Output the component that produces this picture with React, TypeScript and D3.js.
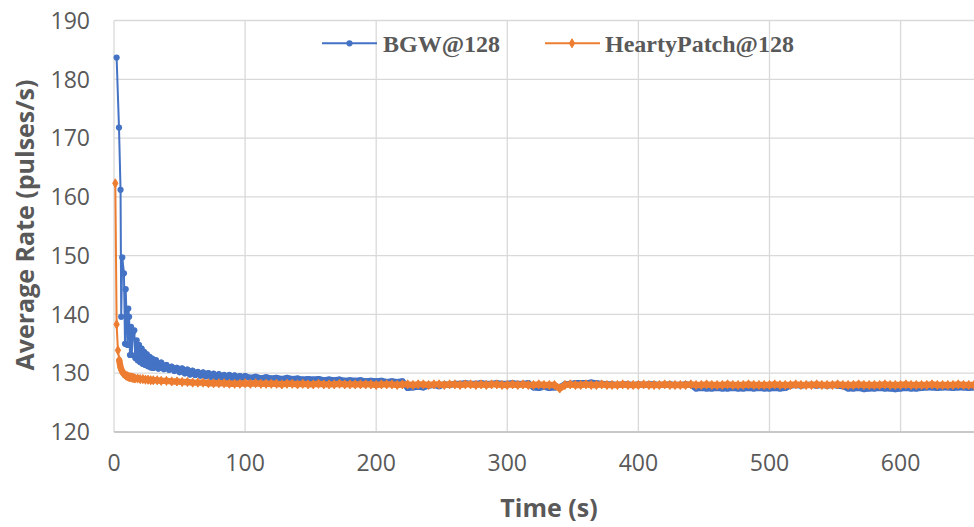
import React from "react";
import * as d3 from "d3";

// ---- Data ----
const xTicks = [0, 100, 200, 300, 400, 500, 600];
const yTicks = [120, 130, 140, 150, 160, 170, 180, 190];

const bgwEarlyTime = [2, 3.8, 5, 5.5, 6.3, 7.6, 8.4, 8.9, 10.3, 10.9, 11.5, 12.2, 13, 13.5, 14.5, 15.5, 16.2, 17.3, 18, 19, 20, 21, 22, 23, 24, 25, 26, 27, 28, 29, 30, 32, 34, 36, 38, 40, 42, 44, 46, 48, 50, 52, 54, 56, 58, 60, 62, 64, 66, 68, 70, 72, 74, 76, 78, 80, 82, 84, 86, 88, 90, 92, 94, 96, 98];
const bgwEarlyRate = [183.7, 171.8, 161.2, 139.6, 149.7, 147.0, 135.0, 144.3, 134.8, 141.0, 139.6, 133.1, 137.9, 133.1, 137.0, 137.3, 132.6, 135.6, 132.2, 134.8, 131.9, 134.2, 131.6, 133.6, 131.4, 133.2, 131.2, 132.8, 131.0, 132.5, 130.9, 132.2, 130.8, 131.8, 130.7, 131.4, 130.6, 131.1, 130.4, 130.9, 130.2, 130.8, 130.0, 130.6, 129.8, 130.4, 129.7, 130.2, 129.6, 130.1, 129.5, 130.0, 129.4, 129.9, 129.3, 129.8, 129.3, 129.7, 129.2, 129.7, 129.2, 129.6, 129.2, 129.5, 129.2];

const hpEarlyTime = [1, 2, 3, 4, 5, 6, 7, 8, 9, 10, 11, 12, 13, 14, 15, 16, 18, 20, 22, 24, 26, 28, 30, 33, 36, 40, 44, 48, 52, 56, 60, 64, 68, 72, 76, 80, 84, 88, 92, 96];
const hpEarlyRate = [162.3, 138.3, 133.9, 132.2, 131.0, 130.4, 130.0, 129.8, 129.6, 129.5, 129.4, 129.3, 129.3, 129.2, 129.2, 129.1, 129.1, 129.0, 129.0, 128.9, 128.9, 128.8, 128.8, 128.8, 128.7, 128.7, 128.6, 128.6, 128.5, 128.5, 128.4, 128.4, 128.4, 128.3, 128.3, 128.3, 128.3, 128.2, 128.2, 128.2];

const tailTime = [100, 104, 108, 112, 116, 120, 124, 128, 132, 136, 140, 144, 148, 152, 156, 160, 164, 168, 172, 176, 180, 184, 188, 192, 196, 200, 204, 208, 212, 216, 220,
  224, 228, 232, 236, 240, 244, 248, 252, 256, 260,
  264, 268, 272, 276, 280, 284, 288, 292, 296, 300, 304, 308, 312, 316,
  320, 324, 328, 332, 336, 340,
  344, 348, 352, 356, 360, 364, 368, 372, 376, 380, 384, 388, 392, 396, 400, 404, 408, 412, 416, 420, 424, 428, 432, 436, 440,
  444, 448, 452, 456, 460, 464, 468, 472, 476, 480, 484, 488, 492, 496, 500, 504, 508, 512,
  516, 520, 524, 528, 532, 536, 540, 544, 548, 552, 556,
  560, 564, 568, 572, 576, 580, 584, 588, 592, 596, 600, 604, 608, 612, 616,
  620, 624, 628, 632, 636, 640, 644, 648, 652, 656, 660];

const bgwTailRate = [129.5, 129.2, 129.4, 129.1, 129.3, 129.1, 129.2, 129.0, 129.2, 129.0, 129.1, 128.9, 129.0, 128.9, 129.0, 128.8, 128.9, 128.8, 128.9, 128.7, 128.8, 128.7, 128.8, 128.6, 128.7, 128.6, 128.7, 128.5, 128.6, 128.5, 128.6,
  127.5, 127.6, 127.7, 127.6, 127.9, 128.0, 127.8, 128.1, 128.0, 128.2,
  128.2, 128.3, 128.2, 128.2, 128.3, 128.2, 128.2, 128.3, 128.2, 128.2, 128.3, 128.2, 128.2, 128.3,
  127.6, 127.5, 127.7, 127.5, 127.6, 127.6,
  128.1, 128.2, 128.3, 128.3, 128.3, 128.4, 128.3, 128.2, 128.1, 128.1, 128.0, 128.1, 128.1, 128.0, 128.1, 128.0, 128.1, 128.1, 128.0, 128.0, 128.1, 128.0, 128.0, 128.1, 128.0,
  127.4, 127.5, 127.4, 127.4, 127.5, 127.4, 127.4, 127.5, 127.4, 127.4, 127.5, 127.4, 127.5, 127.4, 127.4, 127.5, 127.4, 127.5,
  127.9, 128.0, 127.9, 128.0, 128.0, 127.9, 128.0, 127.9, 128.0, 127.9, 127.8,
  127.4, 127.4, 127.5, 127.3, 127.4, 127.4, 127.5, 127.4, 127.4, 127.3, 127.4, 127.5, 127.4, 127.4, 127.5,
  127.6, 127.6, 127.5, 127.6, 127.6, 127.5, 127.6, 127.6, 127.5, 127.6, 127.6];

const hpTailRate = [128.3, 128.2, 128.3, 128.2, 128.2, 128.2, 128.2, 128.1, 128.2, 128.2, 128.1, 128.2, 128.1, 128.1, 128.2, 128.1, 128.1, 128.1, 128.2, 128.1, 128.1, 128.1, 128.1, 128.1, 128.1, 128.0, 128.1, 128.1, 128.1, 128.0, 128.1,
  128.1, 128.0, 128.1, 128.1, 128.0, 128.1, 128.1, 128.0, 128.1, 128.1,
  128.0, 128.1, 128.1, 128.0, 128.1, 128.0, 128.1, 128.1, 128.0, 128.0, 128.1, 128.0, 128.1, 128.0,
  128.0, 128.1, 128.0, 128.0, 128.0, 127.4,
  128.0, 128.1, 128.0, 128.0, 128.1, 128.0, 128.0, 128.1, 128.0, 128.0, 128.0, 128.1, 128.0, 128.0, 128.0, 128.1, 128.0, 128.0, 128.0, 128.1, 128.0, 128.0, 128.0, 128.0, 128.1,
  128.0, 128.0, 128.1, 128.0, 128.0, 128.0, 128.1, 128.0, 128.0, 128.0, 128.1, 128.0, 128.0, 128.0, 128.0, 128.1, 128.0, 128.0,
  128.0, 128.1, 128.0, 128.0, 128.0, 128.1, 128.0, 128.0, 128.0, 128.1, 128.0,
  128.0, 128.0, 128.1, 128.0, 128.0, 128.0, 128.0, 128.1, 128.0, 128.0, 128.0, 128.1, 128.0, 128.0, 128.0,
  128.0, 128.1, 128.0, 128.0, 128.0, 128.0, 128.1, 128.0, 128.0, 128.0, 128.0];

const seriesNames = ["BGW@128", "HeartyPatch@128"];
const seriesColors = ["#4472C4", "#ED7D31"];

// ---- Layout ----
const W = 974;
const H = 527;
const left = 114;
const right = 974;
const top = 20.5;
const bottom = 432;

type P = [number, number];

export default function App() {
  const x = d3.scaleLinear().domain([0, 656]).range([left, right]);
  const y = d3.scaleLinear().domain([120, 190]).range([bottom, top]);

  const bgw: P[] = bgwEarlyTime.map((t, i) => [t, bgwEarlyRate[i]] as P)
    .concat(tailTime.map((t, i) => [t, bgwTailRate[i]] as P));
  const hp: P[] = hpEarlyTime.map((t, i) => [t, hpEarlyRate[i]] as P)
    .concat(tailTime.map((t, i) => [t, hpTailRate[i]] as P));

  // where markers are packed densely they merge into a solid band
  const bgwDense = bgw.filter((d) => d[0] >= 19);
  const hpDense = hp.filter((d) => d[0] >= 4);

  const line = d3.line<P>().x((d) => x(d[0])).y((d) => y(d[1]));
  const diamond = d3.symbol().type(d3.symbolDiamond).size(24)() as string;
  const font = "'Open Sans', 'Noto Sans', sans-serif";
  const gray = "#595959";

  return (
    <div style={{ position: "absolute", left: 0, top: 0 }}>
      <svg width={W} height={H} style={{ display: "block", background: "#fff" }}>
        <defs>
          <clipPath id="plotclip">
            <rect x={left - 6} y={0} width={right - left + 6} height={bottom + 6} />
          </clipPath>
        </defs>
        {/* grid */}
        {yTicks.map((v) => (
          <line key={"gy" + v} x1={left} x2={right} y1={y(v)} y2={y(v)} stroke="#D9D9D9" strokeWidth={1.3} />
        ))}
        {xTicks.map((v) => (
          <line key={"gx" + v} x1={x(v)} x2={x(v)} y1={top} y2={bottom} stroke="#D9D9D9" strokeWidth={1.3} />
        ))}
        <line x1={left} x2={right} y1={bottom} y2={bottom} stroke="#BFBFBF" strokeWidth={1.3} />

        <g clipPath="url(#plotclip)">
          <path d={line(bgwDense) as string} fill="none" stroke={seriesColors[0]} strokeWidth={6.2} strokeLinejoin="round" strokeLinecap="round" />
          <path d={line(bgw) as string} fill="none" stroke={seriesColors[0]} strokeWidth={2} />
          {bgw.map((d, i) => (
            <circle key={"b" + i} cx={x(d[0])} cy={y(d[1])} r={3.1} fill={seriesColors[0]} />
          ))}
          <path d={line(hpDense) as string} fill="none" stroke={seriesColors[1]} strokeWidth={6.4} strokeLinejoin="round" strokeLinecap="round" />
          <path d={line(hp) as string} fill="none" stroke={seriesColors[1]} strokeWidth={2} />
          {hp.map((d, i) => (
            <path key={"h" + i} d={diamond} transform={`translate(${x(d[0])},${y(d[1])})`} fill={seriesColors[1]} stroke={seriesColors[1]} strokeWidth={1} />
          ))}
        </g>

        {/* y tick labels */}
        {yTicks.map((v) => (
          <text key={"ty" + v} x={90} y={y(v)} dy="0.36em" textAnchor="end" fontFamily={font} fontSize={23} fill={gray}>
            {v}
          </text>
        ))}
        {/* x tick labels */}
        {xTicks.map((v) => (
          <text key={"tx" + v} x={x(v)} y={463} dy="0.36em" textAnchor="middle" fontFamily={font} fontSize={23} fill={gray}>
            {v}
          </text>
        ))}
        {/* axis titles */}
        <text x={549} y={508} dy="0.36em" textAnchor="middle" fontFamily={font} fontSize={25} fontWeight="bold" fill={gray}>
          Time (s)
        </text>
        <text transform={`translate(25,225) rotate(-90)`} dy="0.36em" textAnchor="middle" fontFamily={font} fontSize={25} fontWeight="bold" fill={gray}>
          Average Rate (pulses/s)
        </text>

        {/* legend */}
        <g>
          <line x1={322} x2={377} y1={43.3} y2={43.3} stroke={seriesColors[0]} strokeWidth={2} />
          <circle cx={349.5} cy={43.3} r={3.1} fill={seriesColors[0]} />
          <text x={383} y={43.3} dy="0.35em" fontFamily="'Liberation Serif', 'Times New Roman', serif" fontWeight="bold" fontSize={24} fill={gray}>
            {seriesNames[0]}
          </text>
          <line x1={545} x2={600} y1={43.3} y2={43.3} stroke={seriesColors[1]} strokeWidth={2} />
          <path d={diamond} transform="translate(572,43.3)" fill={seriesColors[1]} stroke={seriesColors[1]} strokeWidth={1} />
          <text x={605} y={43.3} dy="0.35em" fontFamily="'Liberation Serif', 'Times New Roman', serif" fontWeight="bold" fontSize={24} fill={gray}>
            {seriesNames[1]}
          </text>
        </g>
      </svg>
    </div>
  );
}
